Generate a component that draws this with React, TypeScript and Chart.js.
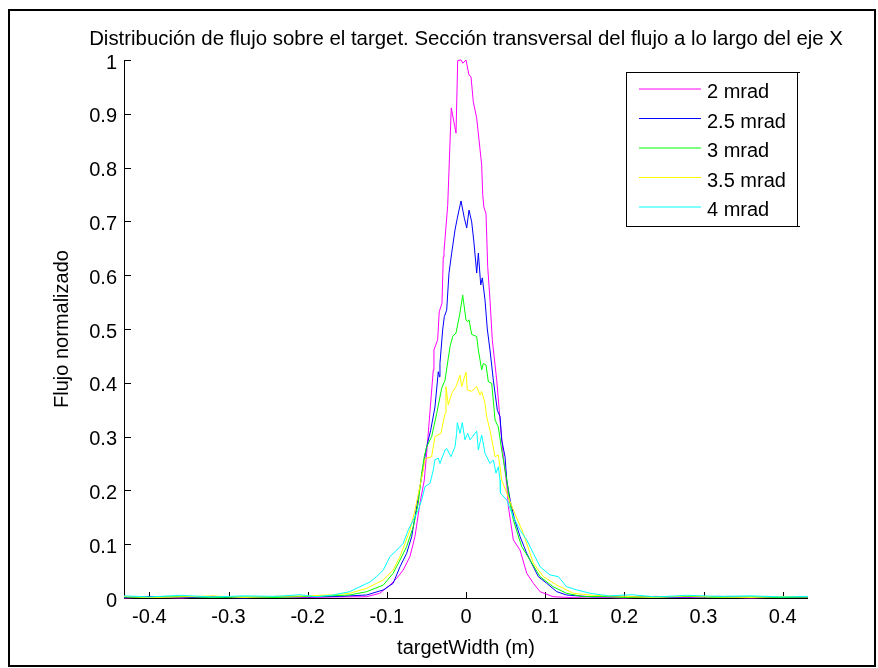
import React, { useEffect, useRef } from "react";
import { Chart, registerables } from "chart.js";

Chart.register(...registerables);

const chartTitle =
  "Distribución de flujo sobre el target. Sección transversal del flujo a lo largo del eje X";
const xTitle = "targetWidth (m)";
const yTitle = "Flujo normalizado";

const seriesLabels = ["2 mrad", "2.5 mrad", "3 mrad", "3.5 mrad", "4 mrad"];
const seriesColors = ["#ff00ff", "#0000ff", "#00ff00", "#ffff00", "#00ffff"];

const xTickValues = [-0.4, -0.3, -0.2, -0.1, 0, 0.1, 0.2, 0.3, 0.4];
const xTickLabels = ["-0.4", "-0.3", "-0.2", "-0.1", "0", "0.1", "0.2", "0.3", "0.4"];
const yTickValues = [0, 0.1, 0.2, 0.3, 0.4, 0.5, 0.6, 0.7, 0.8, 0.9, 1];
const yTickLabels = ["0", "0.1", "0.2", "0.3", "0.4", "0.5", "0.6", "0.7", "0.8", "0.9", "1"];
const xMin = -0.432;
const xMax = 0.432;

// [x (m), normalised flux]
const mrad2: [number, number][] = [
  [-0.432, 0], [-0.4, 0.002], [-0.36, 0], [-0.32, 0.003], [-0.28, 0.001], [-0.24, 0.002],
  [-0.2, 0.001], [-0.16, 0.002], [-0.1255, 0.0024], [-0.109, 0.0087], [-0.096, 0.024],
  [-0.0876, 0.0366], [-0.0793, 0.052], [-0.0708, 0.077], [-0.0645, 0.114], [-0.0582, 0.176],
  [-0.0527, 0.219], [-0.0497, 0.269], [-0.0413, 0.424], [-0.0405, 0.461], [-0.0358, 0.48],
  [-0.0338, 0.532], [-0.0303, 0.548], [-0.0287, 0.634], [-0.0278, 0.644], [-0.0231, 0.73],
  [-0.0186, 0.911], [-0.0126, 0.864], [-0.0105, 0.999], [-0.0063, 1.0], [-0.004, 0.994],
  [0, 1.0], [0.0038, 0.972], [0.0063, 0.969], [0.0092, 0.9225], [0.0135, 0.892],
  [0.0198, 0.805], [0.0211, 0.75], [0.0225, 0.727], [0.0253, 0.714], [0.0274, 0.616],
  [0.0303, 0.554], [0.0332, 0.48], [0.0388, 0.405], [0.043, 0.331], [0.0472, 0.262],
  [0.0515, 0.21], [0.0535, 0.17], [0.0598, 0.108], [0.0683, 0.089], [0.0767, 0.046],
  [0.0851, 0.0273], [0.0936, 0.0117], [0.11, 0.0024], [0.13, 0.001], [0.16, 0.002],
  [0.2, 0], [0.24, 0.003], [0.28, 0.001], [0.32, 0.002], [0.36, 0], [0.4, 0.002], [0.432, 0.001],
];

const mrad25: [number, number][] = [
  [-0.432, 0.001], [-0.4, 0.003], [-0.36, 0.001], [-0.32, 0.002], [-0.28, 0], [-0.24, 0.003],
  [-0.2, 0.002], [-0.16, 0.003], [-0.1255, 0.0056], [-0.1045, 0.015], [-0.092, 0.0273],
  [-0.0834, 0.058], [-0.075, 0.083], [-0.0686, 0.114], [-0.06, 0.19], [-0.0518, 0.263],
  [-0.0497, 0.281], [-0.0446, 0.312], [-0.0392, 0.355], [-0.035, 0.4206], [-0.0335, 0.411],
  [-0.0329, 0.436], [-0.0295, 0.498], [-0.0274, 0.523], [-0.0244, 0.535], [-0.0215, 0.6035],
  [-0.0181, 0.641], [-0.0139, 0.684], [-0.011, 0.706], [-0.0063, 0.738], [-0.0021, 0.706],
  [0.0009, 0.688], [0.0038, 0.721], [0.0072, 0.699], [0.0101, 0.66], [0.0135, 0.604],
  [0.0156, 0.641], [0.0186, 0.582], [0.0206, 0.595], [0.024, 0.554], [0.0269, 0.5],
  [0.0303, 0.461], [0.0345, 0.405], [0.0396, 0.349], [0.043, 0.337], [0.0451, 0.2937],
  [0.0493, 0.2626], [0.0515, 0.219], [0.056, 0.18], [0.0615, 0.145], [0.0683, 0.114],
  [0.0767, 0.083], [0.0851, 0.058], [0.0914, 0.0396], [0.102, 0.0273], [0.1147, 0.0117],
  [0.127, 0.0056], [0.16, 0.002], [0.2, 0.003], [0.24, 0.001], [0.28, 0.002], [0.32, 0.003],
  [0.36, 0.001], [0.4, 0.002], [0.432, 0.001],
];

const mrad3: [number, number][] = [
  [-0.432, 0.002], [-0.4, 0.001], [-0.36, 0.003], [-0.32, 0.001], [-0.28, 0.002], [-0.24, 0.001],
  [-0.2, 0.003], [-0.17, 0.004], [-0.147, 0.0056], [-0.1255, 0.0117], [-0.1045, 0.024],
  [-0.092, 0.046], [-0.0834, 0.0706], [-0.075, 0.0954], [-0.0666, 0.1325], [-0.0603, 0.176],
  [-0.056, 0.232], [-0.0527, 0.263], [-0.0497, 0.281], [-0.0434, 0.3], [-0.037, 0.343],
  [-0.0307, 0.39], [-0.0265, 0.405], [-0.0224, 0.4455], [-0.0202, 0.467], [-0.0168, 0.486],
  [-0.0126, 0.4926], [-0.0076, 0.53], [-0.0042, 0.563], [0, 0.517], [0.0021, 0.5136],
  [0.0038, 0.517], [0.0072, 0.49], [0.0135, 0.486], [0.0156, 0.461], [0.0198, 0.424],
  [0.0219, 0.436], [0.0253, 0.433], [0.0282, 0.402], [0.0325, 0.399], [0.0367, 0.331],
  [0.0408, 0.318], [0.0451, 0.275], [0.0493, 0.238], [0.0515, 0.219], [0.055, 0.18],
  [0.0598, 0.145], [0.0704, 0.0954], [0.0809, 0.0706], [0.0936, 0.0396], [0.11, 0.021],
  [0.127, 0.0087], [0.148, 0.0024], [0.17, 0.003], [0.2, 0.001], [0.24, 0.002], [0.28, 0.003],
  [0.32, 0.001], [0.36, 0.002], [0.4, 0.001], [0.432, 0.002],
];

const mrad35: [number, number][] = [
  [-0.432, 0.003], [-0.4, 0.001], [-0.36, 0.002], [-0.32, 0.004], [-0.28, 0.001], [-0.24, 0.003],
  [-0.2, 0.004], [-0.17, 0.006], [-0.147, 0.0087], [-0.1255, 0.018], [-0.1045, 0.0335],
  [-0.092, 0.052], [-0.0834, 0.077], [-0.0708, 0.126], [-0.0645, 0.163], [-0.054, 0.238],
  [-0.0518, 0.259], [-0.0434, 0.2626], [-0.0392, 0.3], [-0.0316, 0.306], [-0.0265, 0.343],
  [-0.0253, 0.393], [-0.0224, 0.359], [-0.0181, 0.38], [-0.0126, 0.393], [-0.0076, 0.414],
  [-0.0054, 0.393], [0, 0.42], [0.0016, 0.387], [0.0072, 0.384], [0.0135, 0.393],
  [0.0177, 0.377], [0.0198, 0.384], [0.024, 0.362], [0.0261, 0.337], [0.0303, 0.312],
  [0.0367, 0.2626], [0.0408, 0.266], [0.043, 0.244], [0.0451, 0.219], [0.0598, 0.1636],
  [0.0724, 0.12], [0.0851, 0.0645], [0.0977, 0.0396], [0.1147, 0.024], [0.1357, 0.0087],
  [0.16, 0.005], [0.2, 0.003], [0.24, 0.001], [0.28, 0.004], [0.32, 0.002], [0.36, 0.001],
  [0.4, 0.003], [0.432, 0.002],
];

const mrad4: [number, number][] = [
  [-0.432, 0.004], [-0.4, 0.002], [-0.36, 0.005], [-0.32, 0.002], [-0.28, 0.004], [-0.24, 0.003],
  [-0.21, 0.006], [-0.189, 0.0024], [-0.168, 0.0056], [-0.147, 0.0117], [-0.134, 0.021],
  [-0.121, 0.03], [-0.113, 0.0396], [-0.1045, 0.052], [-0.096, 0.077], [-0.0876, 0.089],
  [-0.0793, 0.1017], [-0.073, 0.126], [-0.0666, 0.145], [-0.0603, 0.163], [-0.056, 0.182],
  [-0.0518, 0.207], [-0.0455, 0.213], [-0.0413, 0.238], [-0.0392, 0.257], [-0.035, 0.26],
  [-0.0329, 0.25], [-0.0265, 0.275], [-0.0244, 0.278], [-0.019, 0.2626], [-0.0139, 0.281],
  [-0.0118, 0.306], [-0.011, 0.326], [-0.0076, 0.306], [-0.0047, 0.326], [-0.0013, 0.294],
  [0.0021, 0.306], [0.0051, 0.294], [0.0114, 0.306], [0.0135, 0.31], [0.0156, 0.275],
  [0.0198, 0.303], [0.024, 0.269], [0.0303, 0.25], [0.0345, 0.2565], [0.0379, 0.232],
  [0.0408, 0.244], [0.043, 0.219], [0.0435, 0.195], [0.0515, 0.182], [0.0598, 0.151],
  [0.0683, 0.126], [0.0767, 0.108], [0.0851, 0.083], [0.0936, 0.058], [0.106, 0.043],
  [0.1167, 0.0396], [0.127, 0.021], [0.14, 0.015], [0.157, 0.0087], [0.18, 0.004],
  [0.21, 0.006], [0.24, 0.002], [0.28, 0.005], [0.32, 0.003], [0.36, 0.004], [0.4, 0.002],
  [0.432, 0.003],
];

const seriesData = [mrad2, mrad25, mrad3, mrad35, mrad4];

const FONT = "'Liberation Sans', Arial, Helvetica, sans-serif";

const matlabPlugin = {
  id: "matlabLook",
  beforeDraw(chart: any) {
    const ctx = chart.ctx;
    ctx.save();
    ctx.fillStyle = "#ffffff";
    ctx.fillRect(0, 0, chart.width, chart.height);
    ctx.strokeStyle = "#000000";
    ctx.lineWidth = 2;
    ctx.strokeRect(9, 10, 866, 656);
    ctx.restore();
  },
  beforeDatasetsDraw(chart: any) {
    const { ctx, chartArea, scales } = chart;
    ctx.save();
    // title, centred over the plot area
    ctx.fillStyle = "#000000";
    ctx.font = `20.4px ${FONT}`;
    ctx.textAlign = "center";
    ctx.textBaseline = "middle";
    ctx.fillText(chartTitle, (chartArea.left + chartArea.right) / 2, chartArea.top - 21);
    // axes
    ctx.strokeStyle = "#000000";
    ctx.lineWidth = 1;
    ctx.beginPath();
    ctx.moveTo(chartArea.left + 0.5, chartArea.top);
    ctx.lineTo(chartArea.left + 0.5, chartArea.bottom + 1);
    ctx.moveTo(chartArea.left, chartArea.bottom + 0.5);
    ctx.lineTo(chartArea.right, chartArea.bottom + 0.5);
    ctx.stroke();
    ctx.beginPath();
    yTickValues.forEach((v) => {
      const py = Math.round(scales.y.getPixelForValue(v)) + 0.5;
      ctx.moveTo(chartArea.left, py);
      ctx.lineTo(chartArea.left + 7, py);
    });
    xTickValues.forEach((v) => {
      const px = Math.round(scales.x.getPixelForValue(v)) + 0.5;
      ctx.moveTo(px, chartArea.bottom + 1);
      ctx.lineTo(px, chartArea.bottom - 6);
    });
    ctx.stroke();
    ctx.restore();
  },
  afterDraw(chart: any) {
    const { ctx, chartArea } = chart;
    const left = chartArea.right - 182;
    const top = chartArea.top + 12;
    const w = 171;
    const h = 154;
    ctx.save();
    ctx.fillStyle = "#ffffff";
    ctx.fillRect(left, top, w, h);
    ctx.strokeStyle = "#000000";
    ctx.lineWidth = 1;
    ctx.strokeRect(left + 0.5, top + 0.5, w, h);
    ctx.beginPath();
    ctx.moveTo(left + w, top + 0.5);
    ctx.lineTo(left + w + 3, top + 0.5);
    ctx.moveTo(left + w, top + h + 0.5);
    ctx.lineTo(left + w + 3, top + h + 0.5);
    ctx.stroke();
    ctx.font = `20px ${FONT}`;
    ctx.textBaseline = "middle";
    ctx.textAlign = "left";
    chart.data.datasets.forEach((ds: any, i: number) => {
      const ly = top + 17 + i * 29.5;
      ctx.strokeStyle = ds.borderColor;
      ctx.lineWidth = 1;
      ctx.beginPath();
      ctx.moveTo(left + 13, ly);
      ctx.lineTo(left + 75, ly);
      ctx.stroke();
      ctx.fillStyle = "#000000";
      ctx.fillText(ds.label, left + 81, ly + 3.5);
    });
    ctx.restore();
  },
};

export default function App() {
  const canvasRef = useRef<HTMLCanvasElement | null>(null);

  useEffect(() => {
    if (!canvasRef.current) return;
    Chart.defaults.font.family = FONT;
    const chart = new Chart(canvasRef.current, {
      type: "line",
      data: {
        datasets: seriesData.map((pts, i) => ({
          label: seriesLabels[i],
          data: pts.map(([x, y]) => ({ x, y })),
          borderColor: seriesColors[i],
          backgroundColor: seriesColors[i],
          borderWidth: 1,
          pointRadius: 0,
          tension: 0,
          fill: false,
          clip: 6,
          order: seriesData.length - i,
        })),
      },
      options: {
        responsive: false,
        animation: false,
        events: [],
        layout: { padding: { left: 0, right: 70, top: 60, bottom: 0 } },
        plugins: {
          legend: { display: false },
          tooltip: { enabled: false },
          title: { display: false },
        },
        scales: {
          x: {
            type: "linear",
            min: xMin,
            max: xMax,
            grid: { display: false, drawTicks: false },
            border: { display: false },
            afterBuildTicks: (s: any) => {
              s.ticks = xTickValues.map((value) => ({ value }));
            },
            afterFit: (s: any) => {
              s.height = 70;
            },
            ticks: {
              autoSkip: false,
              maxRotation: 0,
              color: "#000000",
              padding: 7,
              font: { size: 20, family: FONT },
              callback: (_v: any, i: number) => xTickLabels[i],
            },
            title: {
              display: true,
              text: xTitle,
              color: "#000000",
              font: { size: 20, family: FONT },
              padding: { top: 0, bottom: 8 },
            },
          },
          y: {
            type: "linear",
            min: 0,
            max: 1,
            grid: { display: false, drawTicks: false },
            border: { display: false },
            afterBuildTicks: (s: any) => {
              s.ticks = yTickValues.map((value) => ({ value }));
            },
            afterFit: (s: any) => {
              s.width = 124;
            },
            ticks: {
              autoSkip: false,
              color: "#000000",
              padding: 7,
              labelOffset: 3,
              font: { size: 20, family: FONT },
              callback: (_v: any, i: number) => yTickLabels[i],
            },
            title: {
              display: true,
              text: yTitle,
              color: "#000000",
              font: { size: 20, family: FONT },
              padding: { top: 50, bottom: 0 },
            },
          },
        },
      } as any,
      plugins: [matlabPlugin],
    });
    return () => chart.destroy();
  }, []);

  return (
    <canvas
      ref={canvasRef}
      width={878}
      height={668}
      style={{ position: "fixed", left: 0, top: 0, display: "block" }}
    />
  );
}
